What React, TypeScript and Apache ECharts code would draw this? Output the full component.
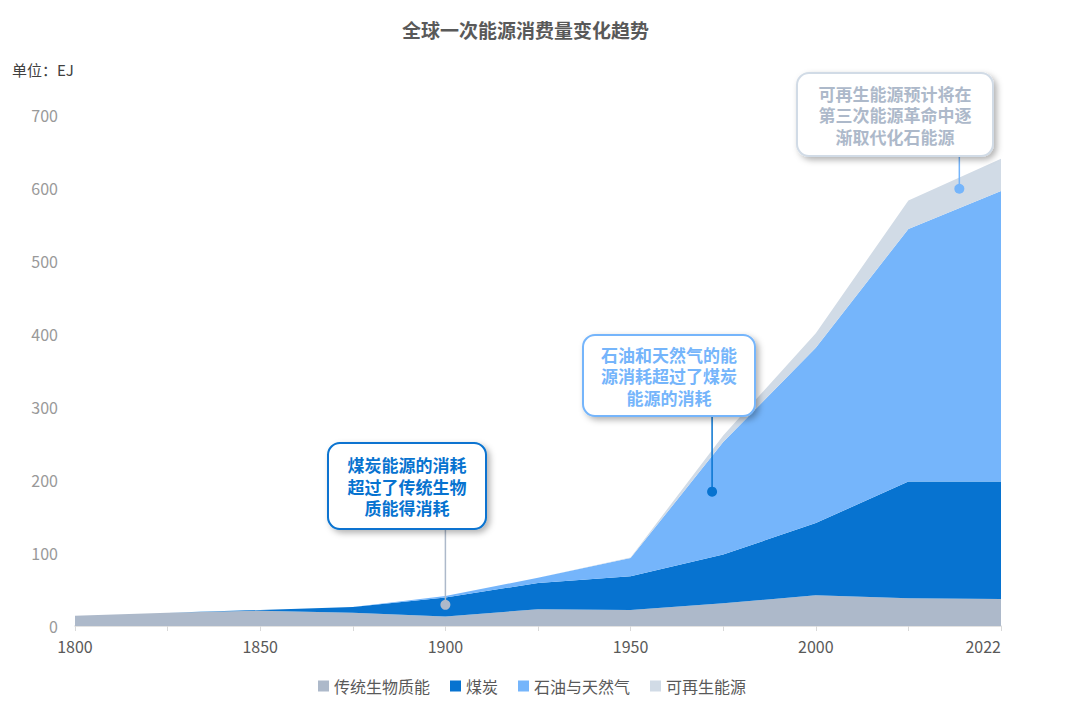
import React, { useEffect, useRef } from 'react';
import * as echarts from 'echarts';

const categories = ['1800', '1825', '1850', '1875', '1900', '1925', '1950', '1975', '2000', '2020', '2022'];
const biomass = [14, 18, 21, 18, 13, 23, 22, 31, 42, 38, 37];
const coal = [0, 0, 1, 8, 26, 36, 46, 67, 99, 160, 161];
const oilGas = [0, 0, 0, 0, 2, 7, 25, 154, 240, 346, 398];
const renewable = [0, 0, 0, 0, 0, 0, 1, 9, 20, 39, 44];
const seriesNames = ['传统生物质能', '煤炭', '石油与天然气', '可再生能源'];
const seriesData = [biomass, coal, oilGas, renewable];
const colors = ['#adb9ca', '#0773d0', '#75b5fb', '#d1dbe6'];
const yTicks = { min: 0, max: 700, interval: 100 };

const notes = [
  { lines: ['煤炭能源的消耗', '超过了传统生物', '质能得消耗'], idx: 4, value: 29, box: [328, 443, 158, 86], text: '#0773d0', border: '#0773d0', dot: '#adb9ca' },
  { lines: ['石油和天然气的能', '源消耗超过了煤炭', '能源的消耗'], idx: 6.88, value: 184, box: [583, 335, 172, 81], text: '#75b5fb', border: '#75b5fb', dot: '#0773d0' },
  { lines: ['可再生能源预计将在', '第三次能源革命中逐', '渐取代化石能源'], idx: 9.55, value: 599, box: [797, 73, 196, 83], text: '#adb9ca', border: '#d1dbe6', dot: '#75b5fb' },
];

const FONT = '"Noto Sans CJK SC", "Noto Sans", sans-serif';

export default function App() {
  const ref = useRef<HTMLDivElement>(null);
  useEffect(() => {
    document.body.style.margin = '0';
    const chart = echarts.init(ref.current!, null, { renderer: 'svg' });
    chart.setOption({
      animation: false,
      backgroundColor: '#ffffff',
      textStyle: { fontFamily: FONT },
      color: colors,
      title: {
        text: '全球一次能源消费量变化趋势',
        left: 397,
        top: 15,
        textStyle: { fontSize: 19, fontWeight: 'bold', color: '#595959', fontFamily: FONT },
      },
      legend: {
        left: 313,
        top: 673,
        icon: 'rect',
        itemWidth: 11,
        itemHeight: 11,
        itemGap: 20,
        textStyle: { fontSize: 16, color: '#595959', fontFamily: FONT },
        data: seriesNames,
      },
      grid: { left: 75, right: 79, top: 115, bottom: 88, containLabel: false },
      xAxis: {
        type: 'category',
        boundaryGap: false,
        data: categories,
        axisLine: { lineStyle: { color: '#d9d9d9', width: 1.5 } },
        axisTick: { show: true, interval: 0, length: 5, lineStyle: { color: '#d9d9d9' } },
        axisLabel: { interval: 1, color: '#595959', fontSize: 16, margin: 12, fontFamily: FONT, alignMaxLabel: 'right' },
        splitLine: { show: false },
      },
      yAxis: {
        type: 'value',
        min: yTicks.min,
        max: yTicks.max,
        interval: yTicks.interval,
        axisLine: { show: false },
        axisTick: { show: false },
        splitLine: { show: false },
        axisLabel: { color: '#999999', fontSize: 16, margin: 17, fontFamily: FONT },
      },
      series: seriesNames.map((name, i) => ({
        name,
        type: 'line',
        stack: 'total',
        data: seriesData[i],
        symbol: 'none',
        showSymbol: false,
        lineStyle: { width: 0 },
        areaStyle: { color: colors[i], opacity: 1 },
        itemStyle: { color: colors[i] },
      })),
    });

    const toPx = (idx: number, val: number) => {
      const i0 = Math.floor(idx);
      const i1 = Math.min(i0 + 1, categories.length - 1);
      const p0 = chart.convertToPixel({ xAxisIndex: 0, yAxisIndex: 0 }, [i0, val]) as number[];
      const p1 = chart.convertToPixel({ xAxisIndex: 0, yAxisIndex: 0 }, [i1, val]) as number[];
      const f = idx - i0;
      return [p0[0] + (p1[0] - p0[0]) * f, p0[1]];
    };

    const graphic: any[] = [
      {
        type: 'text',
        left: 12,
        top: 62,
        style: { text: '单位：EJ', fontSize: 15, fill: '#404040', fontFamily: FONT },
      },
    ];
    const lineGap = 21.5;
    notes.forEach((n) => {
      const [dx, dy] = toPx(n.idx, n.value);
      const [bx, by, bw, bh] = n.box;
      graphic.push({
        type: 'line',
        shape: { x1: dx, y1: by + bh, x2: dx, y2: dy },
        style: { stroke: n.dot, lineWidth: 1.5 },
        z: 10,
      });
      graphic.push({
        type: 'circle',
        shape: { cx: dx, cy: dy, r: 5 },
        style: { fill: n.dot },
        z: 10,
      });
      graphic.push({
        type: 'rect',
        shape: { x: bx, y: by, width: bw, height: bh, r: 12 },
        style: {
          fill: '#ffffff',
          stroke: n.border,
          lineWidth: 2,
          shadowBlur: 6,
          shadowOffsetX: 3,
          shadowOffsetY: 3,
          shadowColor: 'rgba(0,0,0,0.3)',
        },
        z: 11,
      });
      const cy = by + bh / 2;
      n.lines.forEach((ln, k) => {
        graphic.push({
          type: 'text',
          x: bx + bw / 2,
          y: cy + (k - (n.lines.length - 1) / 2) * lineGap,
          style: {
            text: ln,
            fill: n.text,
            fontSize: 17,
            fontWeight: 'bold',
            fontFamily: FONT,
            align: 'center',
            verticalAlign: 'middle',
            lineHeight: 18,
          },
          z: 12,
        });
      });
    });
    chart.setOption({ graphic });

    return () => chart.dispose();
  }, []);
  return <div ref={ref} style={{ width: 1080, height: 714, position: 'absolute', left: 0, top: 0 }} />;
}
